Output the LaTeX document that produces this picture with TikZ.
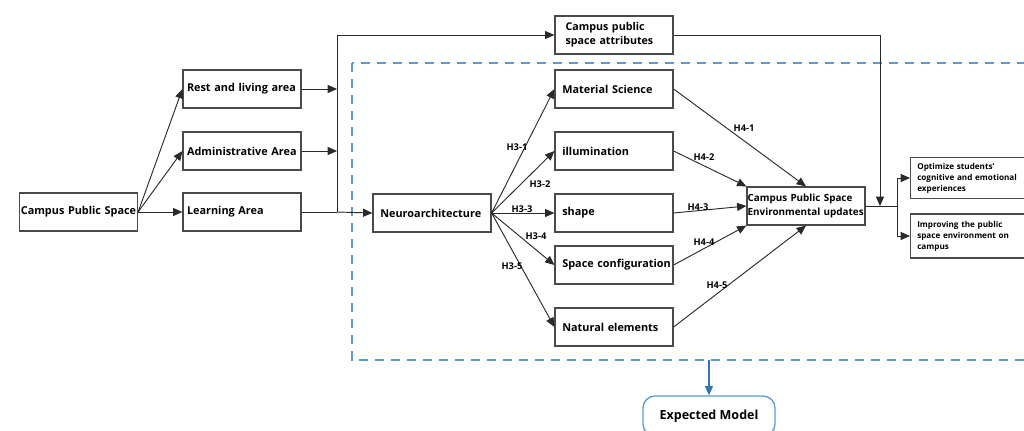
\documentclass[tikz,border=0pt]{standalone}
\usepackage{fontspec}
\setmainfont{Open Sans}
\usetikzlibrary{arrows.meta}
\definecolor{boxgray}{HTML}{4A4A4A}
\definecolor{linegray}{HTML}{2A2A2A}
\definecolor{dashblue}{HTML}{5B9BD5}
\definecolor{arrblue}{HTML}{2E75B6}
\tikzset{
  box/.style={draw=boxgray, line width=0.9pt, minimum height=28.5pt, text width=86.5pt,
    inner xsep=1pt, inner ysep=1pt, align=left, font=\fontsize{8.15}{10.5}\selectfont\bfseries, text=black},
  smallbox/.style={box, font=\fontsize{6.1}{8.2}\selectfont\bfseries, text width=92pt, inner xsep=5pt, minimum height=31pt},
  arr/.style={draw=linegray, line width=0.7pt, -{Triangle[length=7pt,width=6pt]}},
  ln/.style={draw=linegray, line width=0.7pt},
  lab/.style={font=\fontsize{7}{8}\selectfont\bfseries, inner sep=0.5pt, text=black},
}
\begin{document}
\begin{tikzpicture}[x=0.75pt,y=-0.75pt]
\useasboundingbox (0,0) rectangle (1024,430);
% dashed region
\draw[dashblue, line width=1pt, dash pattern=on 7pt off 5pt] (352,63) rectangle (1040,360);
% nodes
\node[box] (cps) at (78.5,212) {\mbox{Campus Public Space}};
\node[box] (rest) at (242,89) {\mbox{\hspace{2pt}Rest and living area}};
\node[box] (adm) at (242,151) {\mbox{\hspace{2pt}Administrative Area}};
\node[box] (learn) at (242,212) {\mbox{\hspace{2pt}Learning Area}};
\node[box, inner xsep=8pt, text width=72.5pt, font=\fontsize{8}{10.5}\selectfont\bfseries] (attr) at (614,35) {Campus public\\space attributes};
\node[box] (neuro) at (432,213) {\mbox{\hspace{4.5pt}Neuroarchitecture}};
\node[box] (ms) at (614,89) {\mbox{\hspace{4.5pt}Material Science}};
\node[box] (ill) at (614,151) {\mbox{\hspace{4.5pt}illumination}};
\node[box] (shp) at (614,213) {\mbox{\hspace{4.5pt}shape}};
\node[box] (sc) at (614,265) {\mbox{\hspace{4.5pt}Space configuration}};
\node[box] (nat) at (614,327) {\mbox{\hspace{4.5pt}Natural elements}};
\node[box, inner xsep=0.5pt, text width=87.5pt, font=\fontsize{7.4}{10}\selectfont\bfseries] (env) at (806,206) {\mbox{Campus Public Space}\\\mbox{Environmental updates}};
\node[smallbox, anchor=west] (opt) at (910,178) {Optimize students'\\cognitive and emotional\\experiences};
\node[smallbox, anchor=west, minimum height=33pt] (imp) at (910,236) {Improving the public\\space environment on\\campus};
\node[draw=dashblue, line width=1pt, rounded corners=9pt, minimum width=99pt, minimum height=30pt,
  font=\fontsize{9.4}{11}\selectfont\bfseries] (em) at (709,416) {Expected Model};
% coordinates
\coordinate (j) at (337,212);
\coordinate (k) at (880,206);
\coordinate (b) at (897,206);
\coordinate (d) at (709,360);
% left fan
\draw[arr] (cps.east) -- (rest.west);
\draw[arr] (cps.east) -- (adm.west);
\draw[arr] (cps.east) -- (learn.west);
\draw[arr] (rest.east) -- (rest.east -| j);
\draw[arr] (adm.east) -- (adm.east -| j);
\draw[ln] (learn.east) -- (j);
\draw[arr] (j) -- (neuro.west);
\draw[arr] (j) |- (attr.west);
\draw[arr] (attr.east) -| (k);
% H3 edges
\draw[arr] (neuro.east) -- (ms.west);
\draw[arr] (neuro.east) -- (ill.west);
\draw[arr] (neuro.east) -- (shp.west);
\draw[arr] (neuro.east) -- (sc.west);
\draw[arr] (neuro.east) -- (nat.west);
% H4 edges
\draw[arr] (ms.east) -- (env.north);
\draw[arr] (ill.east) -- (env.north west);
\draw[arr] (shp.east) -- (env.west);
\draw[arr] (sc.east) -- (env.south west);
\draw[arr] (nat.east) -- (env.south);
% outputs
\draw[ln] (env.east) -- (b);
\draw[arr] (b) |- (opt.west);
\draw[arr] (b) |- (imp.west);
\draw[draw=arrblue, line width=0.8pt, -{Triangle[length=7pt,width=6pt]}] (d) -- (em.north);
% labels
\node[lab] (l31) at (517,147) {H3-1};
\node[lab] (l32) at (540,184) {H3-2};
\node[lab] (l33) at (522,209) {H3-3};
\node[lab] (l34) at (536,236) {H3-4};
\node[lab] (l35) at (512,266) {H3-5};
\node[lab] (l41) at (744,128) {H4-1};
\node[lab] (l42) at (704,157) {H4-2};
\node[lab] (l43) at (698,207) {H4-3};
\node[lab] (l44) at (704,242) {H4-4};
\node[lab] (l45) at (717,285) {H4-5};
\end{tikzpicture}
\end{document}
